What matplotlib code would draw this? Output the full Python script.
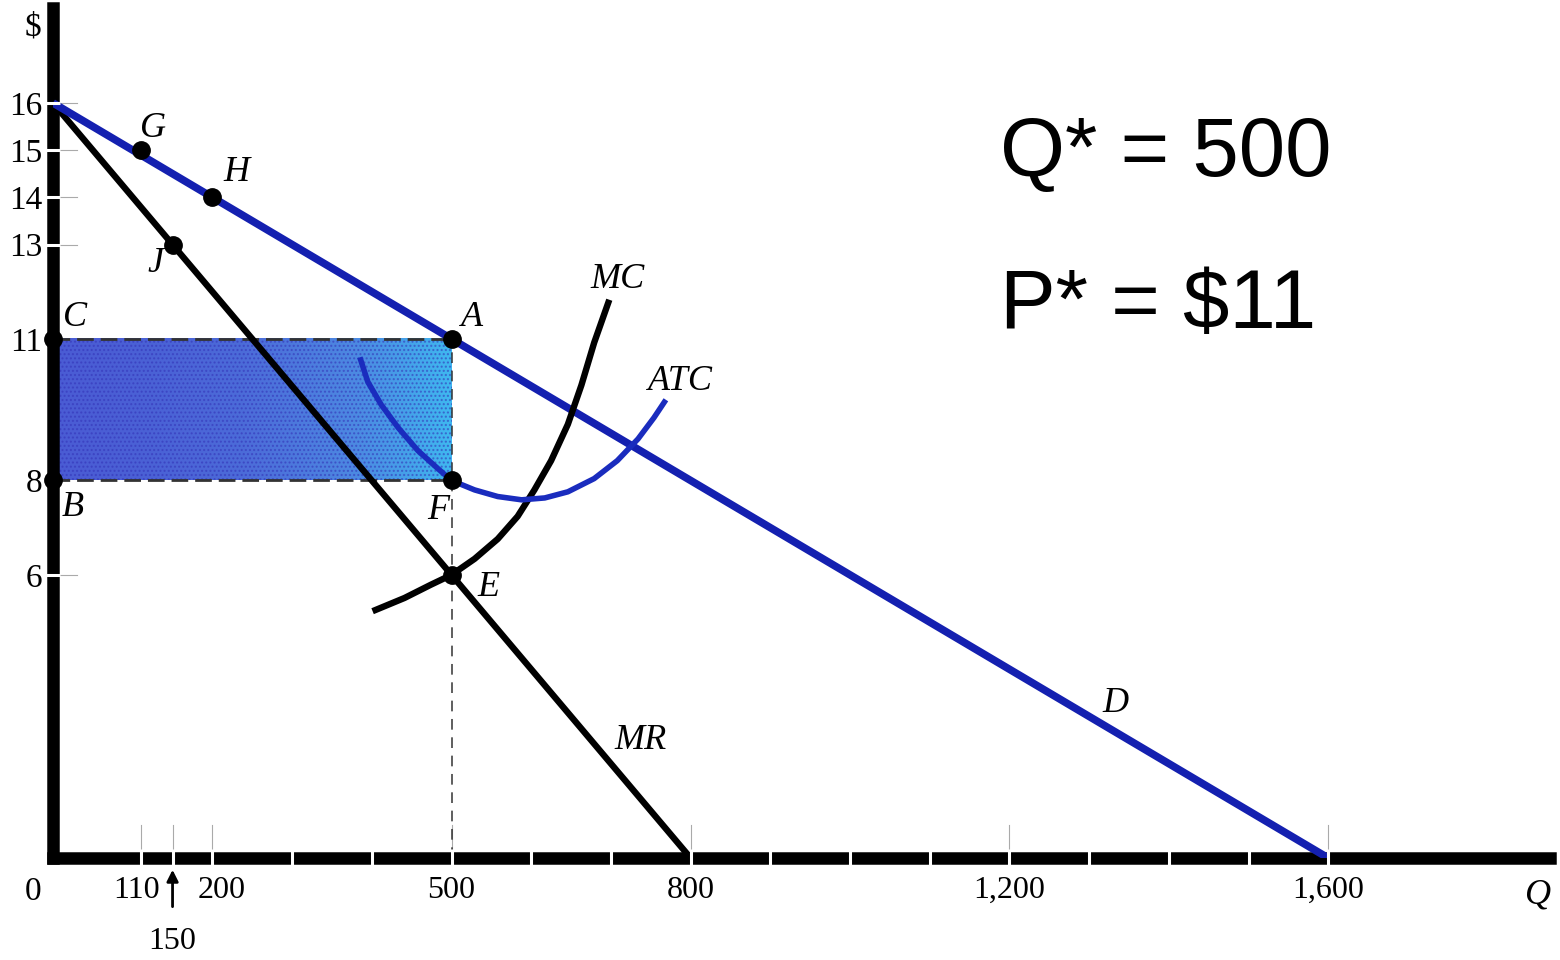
import matplotlib.pyplot as plt
import numpy as np
from matplotlib.colors import LinearSegmentedColormap
from matplotlib.transforms import ScaledTranslation

plt.rcParams['font.family'] = ['Liberation Serif', 'DejaVu Serif']
plt.rcParams['hatch.linewidth'] = 1.0

# demand and marginal revenue (straight lines)
D_Q = [0, 1600]
D_P = [16, 0]
MR_Q = [0, 800]
MR_P = [16, 0]

# MC and ATC
MC_Q = [401, 441, 474, 500, 529, 558, 583, 604, 625, 646, 663, 679, 698]
MC_P = [5.23, 5.51, 5.79, 6.0, 6.34, 6.76, 7.24, 7.80, 8.42, 9.19, 10.02, 10.92, 11.83]
ATC_Q = [385, 395, 412, 433, 458, 483, 500, 529, 558, 588, 617, 646, 679, 708, 734, 754, 769]
ATC_P = [10.61, 10.09, 9.60, 9.12, 8.63, 8.25, 8.0, 7.80, 7.66, 7.59, 7.63, 7.76, 8.04,
         8.42, 8.88, 9.33, 9.71]

# labelled points
PT_Q = [110, 200, 150, 500, 500, 500, 0, 0]
PT_P = [15, 14, 13, 11, 8, 6, 11, 8]

Q_STAR = 500
P_STAR = 11
ATC_STAR = 8

XTICKS = [110, 200, 500, 800, 1200, 1600]
XTICK_LABELS = ['110', '200', '500', '800', '1,200', '1,600']
YTICKS = [6, 8, 11, 13, 14, 15, 16]
XGAPS = [110, 150, 200] + list(range(300, 1700, 100))
YGAPS = [6, 13, 14, 15, 16]
XMARKS = [110, 150, 200, 500, 800, 1200, 1600]

W, H = 1560, 960
fig = plt.figure(figsize=(15.6, 9.6), dpi=100)
ax = fig.add_axes([53 / W, 1 - 858 / H, (1550 - 53) / W, (858 - 8) / H])
ax.set_xlim(0, 1497 / 0.797)
ax.set_ylim(0, 850 / 47.19)

for s in ['top', 'right']:
    ax.spines[s].set_visible(False)
for s in ['left', 'bottom']:
    ax.spines[s].set_linewidth(9)
    ax.spines[s].set_capstyle('projecting')

ax.set_xticks(XTICKS, XTICK_LABELS)
ax.set_yticks(YTICKS, [str(v) for v in YTICKS])
ax.tick_params(axis='x', length=0, pad=13, labelsize=23)
ax.tick_params(axis='y', length=0, pad=8, labelsize=24)

# the printed figure spreads 110 and 200 apart a little to leave room for the arrow
xlabs = ax.get_xticklabels()
xlabs[0].set_transform(xlabs[0].get_transform() + ScaledTranslation(-0.04, 0, fig.dpi_scale_trans))
xlabs[1].set_transform(xlabs[1].get_transform() + ScaledTranslation(0.09, 0, fig.dpi_scale_trans))

# shaded profit rectangle
cmap = LinearSegmentedColormap.from_list('prof', ['#4a5cd4', '#4c6cd9', '#4c8ae2', '#3fb8f0'])
grad = np.linspace(0, 1, 256).reshape(1, -1) ** 1.5
ax.imshow(grad, extent=[0, Q_STAR, ATC_STAR, P_STAR], aspect='auto', cmap=cmap,
          origin='lower', zorder=1)
ax.fill_between([0, Q_STAR], ATC_STAR, P_STAR, facecolor='none',
                edgecolor=(0.2, 0.2, 0.72, 0.55), hatch='....', linewidth=0, zorder=1.2)

# dashed guides
ax.plot([0, Q_STAR], [P_STAR, P_STAR], color='#333333', lw=2, ls=(0, (6, 2.5)), zorder=1.5)
ax.plot([0, Q_STAR], [ATC_STAR, ATC_STAR], color='#333333', lw=2, ls=(0, (6, 2.5)), zorder=1.5)
ax.plot([Q_STAR, Q_STAR], [0, P_STAR], color='#333333', lw=1.1, ls=(0, (7, 5)), zorder=1.5)

# faint tick marks
for q in XMARKS:
    ax.plot([q, q], [0.15, 0.7], color='#aaaaaa', lw=0.8, zorder=1)
for p in YGAPS:
    ax.plot([0, 30], [p, p], color='#aaaaaa', lw=0.8, zorder=1)

# curves
ax.plot(MR_Q, MR_P, color='black', lw=4.6, zorder=3)
ax.plot(D_Q, D_P, color='#1420b0', lw=5.5, zorder=3, solid_capstyle='butt')
ax.plot(MC_Q, MC_P, color='black', lw=4.6, zorder=3, solid_capstyle='butt',
        solid_joinstyle='round')
ax.plot(ATC_Q, ATC_P, color='#1a2cbe', lw=4, zorder=3, solid_capstyle='butt',
        solid_joinstyle='round')

# gaps in the axis lines
for q in XGAPS:
    ax.plot([q, q], [-0.2, 0.2], color='white', lw=2.2, zorder=3.5, clip_on=False,
            solid_capstyle='butt')
for p in YGAPS:
    ax.plot([-9, 9], [p, p], color='white', lw=2.2, zorder=3.5, clip_on=False,
            solid_capstyle='butt')

ax.plot(PT_Q, PT_P, 'o', color='black', ms=12.5, zorder=5, clip_on=False)

# point and curve labels
lab_kw = dict(fontsize=26, style='italic', ha='center', va='center', zorder=6)
ax.text(125, 15.45, 'G', **lab_kw)
ax.text(230, 14.52, 'H', **lab_kw)
ax.text(128, 12.6, 'J', **lab_kw)
ax.text(28, 11.45, 'C', **lab_kw)
ax.text(526, 11.45, 'A', **lab_kw)
ax.text(25, 7.42, 'B', **lab_kw)
ax.text(483, 7.37, 'F', **lab_kw)
ax.text(546, 5.74, 'E', **lab_kw)
ax.text(708, 12.25, 'MC', **lab_kw)
ax.text(787, 10.09, 'ATC', **lab_kw)
ax.text(1333, 3.28, 'D', **lab_kw)
ax.text(737, 2.48, 'MR', **lab_kw)
ax.text(1863, -0.78, 'Q', fontsize=26, style='italic', ha='center', va='center',
        clip_on=False)
ax.text(-25, 17.6, '$', fontsize=24, ha='center', va='center', clip_on=False)
ax.text(-25, -0.72, '0', fontsize=24, ha='center', va='center', clip_on=False)

ax.annotate('150', xy=(150, -0.25), xytext=(150, -1.78), fontsize=23, ha='center',
            va='center', annotation_clip=False,
            arrowprops=dict(arrowstyle='-|>', color='black', lw=2,
                            shrinkA=13, shrinkB=0, mutation_scale=17))

fig.text(1000 / W, 1 - 176 / H, 'Q* = 500', fontsize=60, family='Liberation Sans',
         ha='left', va='baseline')
fig.text(1000 / W, 1 - 328 / H, 'P* = $11', fontsize=60, family='Liberation Sans',
         ha='left', va='baseline')

fig.savefig('out.png', dpi=100)
